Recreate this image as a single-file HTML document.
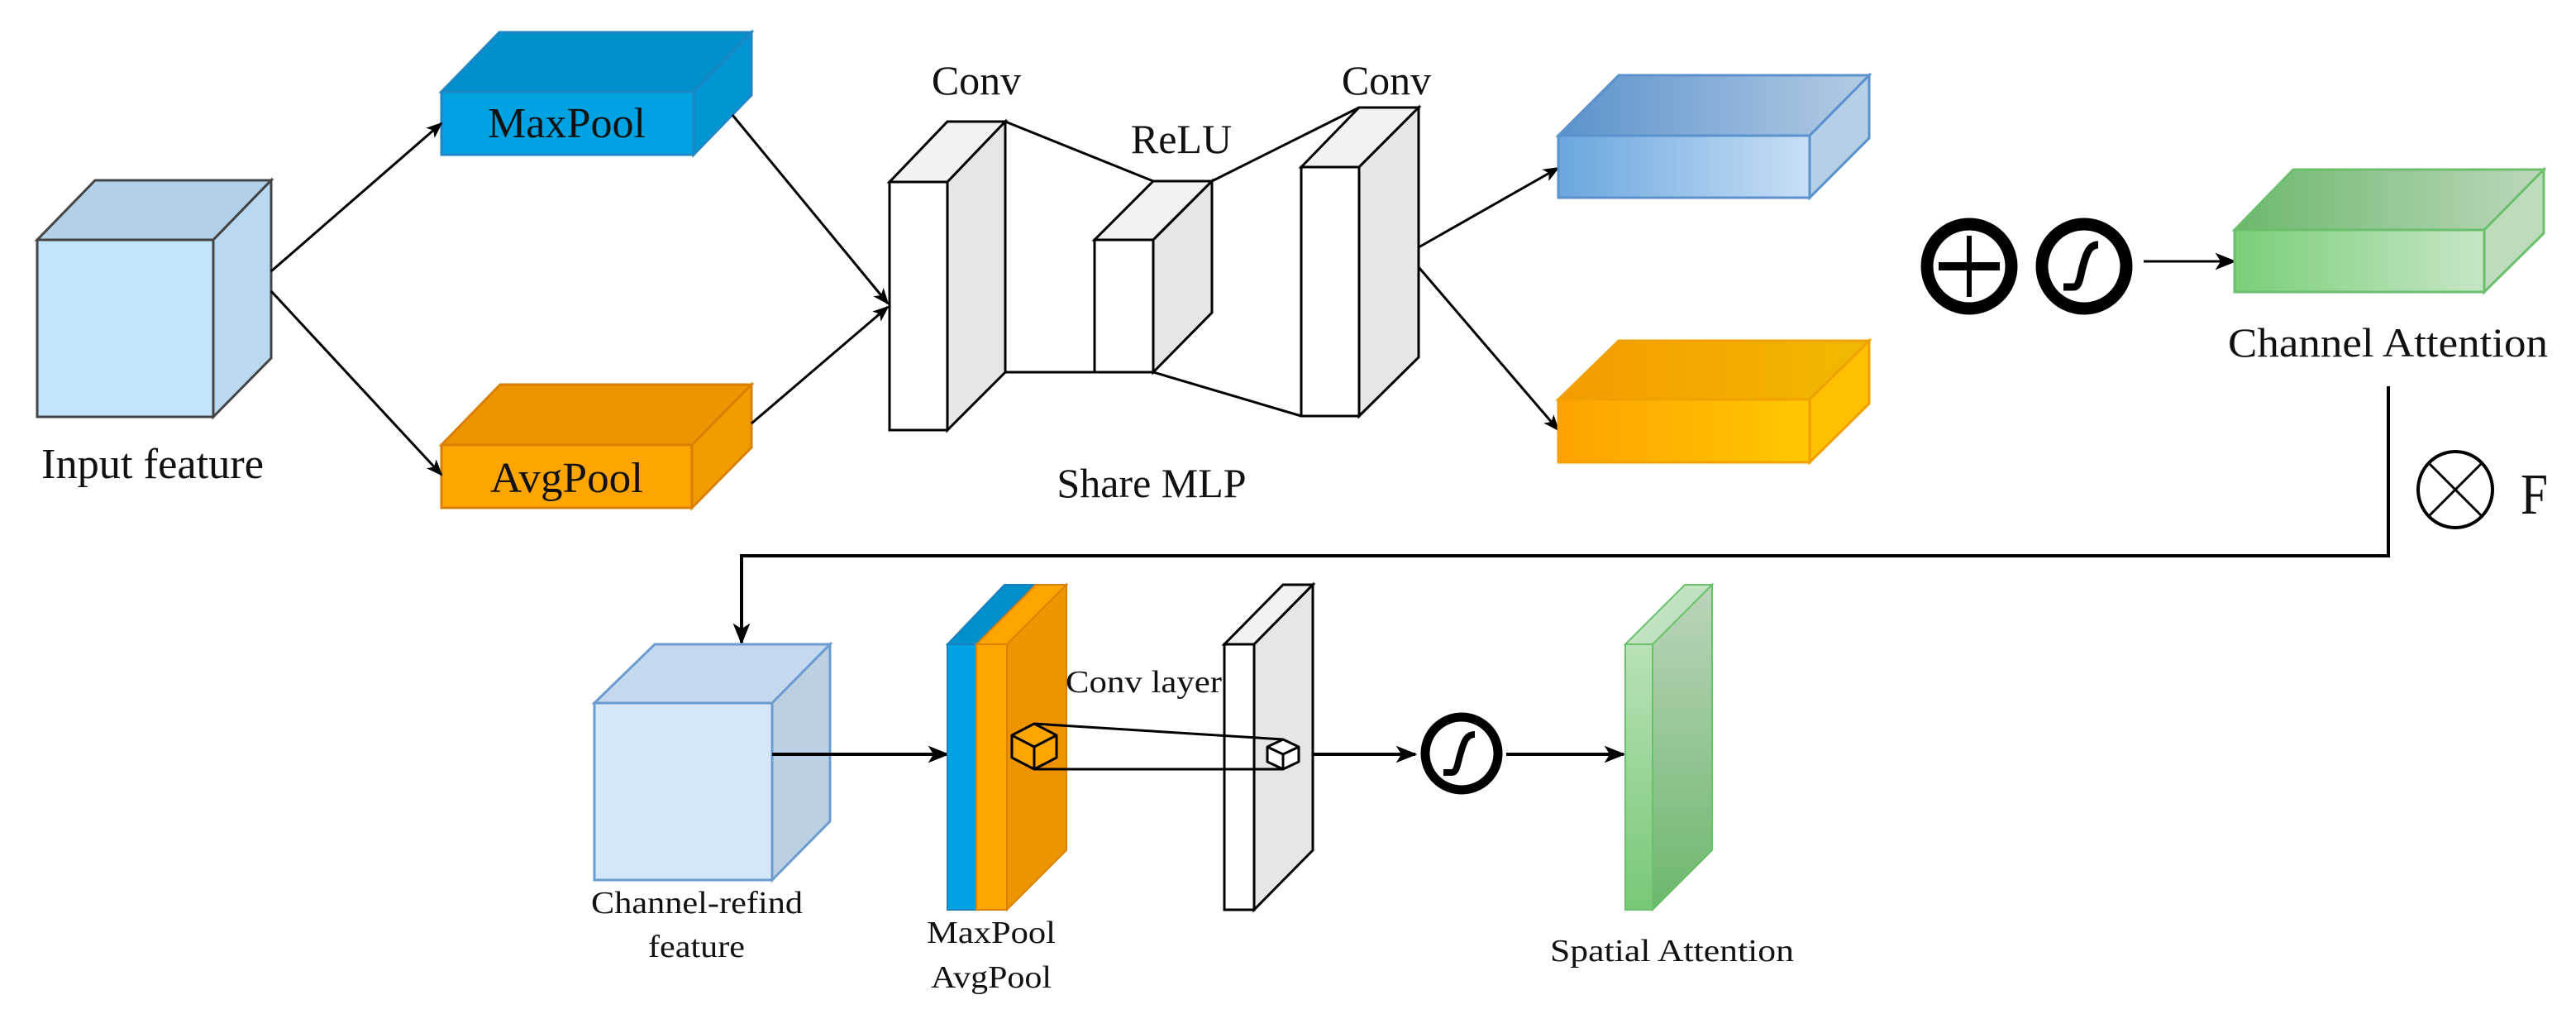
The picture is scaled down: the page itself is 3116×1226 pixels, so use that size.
<!DOCTYPE html>
<html><head><meta charset="utf-8"><style>
html,body{margin:0;padding:0;background:#fff;}
svg{display:block;}
text{font-family:"Liberation Serif",serif;fill:#111;}
</style></head><body>
<svg width="3116" height="1226" viewBox="0 0 3116 1226" xmlns="http://www.w3.org/2000/svg">
<defs>
<marker id="ah" viewBox="0 0 20 20" refX="18" refY="10" markerWidth="20" markerHeight="20" markerUnits="userSpaceOnUse" orient="auto">
<path d="M0,2 L20,10 L0,18 L5,10 Z" fill="#000"/>
</marker>
<marker id="ah2" viewBox="0 0 20 20" refX="18" refY="10" markerWidth="26" markerHeight="26" markerUnits="userSpaceOnUse" orient="auto">
<path d="M0,2 L20,10 L0,18 L5,10 Z" fill="#000"/>
</marker>
<linearGradient id="gb" x1="0" x2="1" y1="0" y2="0"><stop offset="0" stop-color="#6aa6de"/><stop offset="1" stop-color="#c8e0f6"/></linearGradient>
<linearGradient id="gbt" x1="0" x2="1" y1="0" y2="0"><stop offset="0" stop-color="#5b92cc"/><stop offset="1" stop-color="#b4cce4"/></linearGradient>
<linearGradient id="go" x1="0" x2="1" y1="0" y2="0"><stop offset="0" stop-color="#ffa200"/><stop offset="1" stop-color="#ffc800"/></linearGradient>
<linearGradient id="got" x1="0" x2="1" y1="0" y2="0"><stop offset="0" stop-color="#f59a00"/><stop offset="1" stop-color="#f0ba00"/></linearGradient>
<linearGradient id="gg" x1="0" x2="1" y1="0" y2="0"><stop offset="0" stop-color="#7acf78"/><stop offset="1" stop-color="#c6e6c6"/></linearGradient>
<linearGradient id="ggt" x1="0" x2="1" y1="0" y2="0"><stop offset="0" stop-color="#6cb86c"/><stop offset="1" stop-color="#bcd8bc"/></linearGradient>
<linearGradient id="gs" x1="0" x2="0" y1="0" y2="1"><stop offset="0" stop-color="#b8e2b6"/><stop offset="1" stop-color="#78c876"/></linearGradient>
<linearGradient id="gss" x1="0" x2="0" y1="0" y2="1"><stop offset="0" stop-color="#bcd4bc"/><stop offset="1" stop-color="#6cb86c"/></linearGradient>
</defs>

<g stroke="#444" stroke-width="3">
<polygon points="45,290 258,290 328,218 115,218" fill="#b1d0ea"/>
<polygon points="258,290 328,218 328,433 258,504" fill="#b9d9f2"/>
<rect x="45" y="290" width="213" height="214" fill="#c3e5fc"/>
</g>
<text x="50" y="578" font-size="52" textLength="269" lengthAdjust="spacingAndGlyphs">Input feature</text>

<g stroke="#1f86c4" stroke-width="3">
<polygon points="534,111 839,111 909,39 604,39" fill="#0090cc"/>
<polygon points="839,111 909,39 909,115 839,187" fill="#0096d2"/>
<rect x="534" y="111" width="305" height="76" fill="#00a3e2"/>
</g>
<text x="590" y="166" font-size="52" textLength="191" lengthAdjust="spacingAndGlyphs">MaxPool</text>

<g stroke="#d98000" stroke-width="3">
<polygon points="534,538 837,538 909,465 605,465" fill="#ee9400"/>
<polygon points="837,538 909,465 909,541 837,614" fill="#f29c00"/>
<rect x="534" y="538" width="303" height="76" fill="#ffa500"/>
</g>
<text x="593" y="595" font-size="52" textLength="185" lengthAdjust="spacingAndGlyphs">AvgPool</text>

<g stroke="#000" stroke-width="3" fill="none">
<line x1="328" y1="328" x2="534" y2="149" marker-end="url(#ah)"/>
<line x1="328" y1="352" x2="534" y2="574" marker-end="url(#ah)"/>
<line x1="886" y1="139" x2="1074" y2="367" marker-end="url(#ah)"/>
<line x1="909" y1="512" x2="1074" y2="371" marker-end="url(#ah)"/>
</g>

<g stroke="#000" stroke-width="3">
<polygon points="1076,220 1146,220 1216,147 1146,147" fill="#f2f2f2"/>
<polygon points="1146,220 1216,147 1216,450 1146,520" fill="#e6e6e6"/>
<rect x="1076" y="220" width="70" height="300" fill="#fff"/>
<polygon points="1324,290 1395,290 1466,219 1395,219" fill="#f2f2f2"/>
<polygon points="1395,290 1466,219 1466,378 1395,450" fill="#e6e6e6"/>
<rect x="1324" y="290" width="71" height="160" fill="#fff"/>
<polygon points="1574,202 1644,202 1716,130 1644,130" fill="#f2f2f2"/>
<polygon points="1644,202 1716,130 1716,432 1644,503" fill="#e6e6e6"/>
<rect x="1574" y="202" width="70" height="301" fill="#fff"/>
<line x1="1216" y1="147" x2="1395" y2="219"/>
<line x1="1466" y1="219" x2="1644" y2="130"/>
<line x1="1216" y1="450" x2="1324" y2="450"/>
<line x1="1395" y1="450" x2="1574" y2="503"/>
</g>
<text x="1181" y="114" font-size="50" text-anchor="middle">Conv</text>
<text x="1429" y="185" font-size="50" text-anchor="middle">ReLU</text>
<text x="1677" y="114" font-size="50" text-anchor="middle">Conv</text>
<text x="1393" y="601" font-size="50" text-anchor="middle">Share MLP</text>

<g stroke="#000" stroke-width="3" fill="none">
<line x1="1716" y1="299" x2="1885" y2="203" marker-end="url(#ah)"/>
<line x1="1716" y1="323" x2="1885" y2="520" marker-end="url(#ah)"/>
</g>

<g stroke="#5b92cc" stroke-width="3">
<polygon points="1885,164 2189,164 2261,91 1958,91" fill="url(#gbt)"/>
<polygon points="2189,164 2261,91 2261,167 2189,239" fill="#b6cfe8"/>
<rect x="1885" y="164" width="304" height="75" fill="url(#gb)"/>
</g>
<g stroke="#f0a000" stroke-width="3">
<polygon points="1885,483 2189,483 2261,412 1958,412" fill="url(#got)"/>
<polygon points="2189,483 2261,412 2261,488 2189,559" fill="#ffc000"/>
<rect x="1885" y="483" width="304" height="76" fill="url(#go)"/>
</g>

<g stroke="#000" fill="none">
<circle cx="2382" cy="322" r="51" stroke-width="15"/>
<line x1="2345" y1="322" x2="2419" y2="322" stroke-width="10"/>
<line x1="2382" y1="285" x2="2382" y2="359" stroke-width="6"/>
<circle cx="2521" cy="322" r="51" stroke-width="15"/>
<path d="M2496,347 L2508,347 C2516,347 2516,333 2520,320 C2524,305 2528,296 2538,296" stroke-width="9"/>
<line x1="2593" y1="316" x2="2703" y2="316" stroke-width="3" marker-end="url(#ah2)"/>
</g>

<g stroke="#6cbf6c" stroke-width="3">
<polygon points="2703,278 3005,278 3077,205 2774,205" fill="url(#ggt)"/>
<polygon points="3005,278 3077,205 3077,282 3005,353" fill="#bcdcbc"/>
<rect x="2703" y="278" width="302" height="75" fill="url(#gg)"/>
</g>
<text x="2695" y="431" font-size="50" textLength="387" lengthAdjust="spacingAndGlyphs">Channel Attention</text>

<g stroke="#000" fill="none">
<polyline points="2889,467 2889,672 897,672 897,777" stroke-width="4" marker-end="url(#ah2)"/>
<ellipse cx="2970" cy="592" rx="45" ry="46" stroke-width="4"/>
<line x1="2938" y1="560" x2="3002" y2="624" stroke-width="3"/>
<line x1="3002" y1="560" x2="2938" y2="624" stroke-width="3"/>
</g>
<text x="3049" y="621" font-size="70" textLength="33" lengthAdjust="spacingAndGlyphs">F</text>

<g stroke="#6c9ccf" stroke-width="3">
<polygon points="719,850 934,850 1004,779 792,779" fill="#c4d8ef"/>
<polygon points="934,850 1004,779 1004,993 934,1064" fill="#bccfe3"/>
<rect x="719" y="850" width="215" height="214" fill="#d4e8fa"/>
</g>
<text x="715" y="1104" font-size="38" textLength="256" lengthAdjust="spacingAndGlyphs">Channel-refind</text>
<text x="784" y="1157" font-size="38" textLength="117" lengthAdjust="spacingAndGlyphs">feature</text>

<line x1="934" y1="912" x2="1146" y2="912" stroke="#000" stroke-width="4" marker-end="url(#ah2)"/>

<g stroke-width="2">
<polygon points="1146,779 1181,779 1250,707 1215,707" fill="#0090cc" stroke="#1a7fbf"/>
<rect x="1146" y="779" width="35" height="321" fill="#00a3e2" stroke="#1a7fbf"/>
<polygon points="1181,779 1218,779 1290,707 1253,707" fill="#ffa500" stroke="#d98000"/>
<polygon points="1218,779 1290,707 1290,1028 1218,1100" fill="#ee9400" stroke="#d98000"/>
<rect x="1181" y="779" width="37" height="321" fill="#ffa500" stroke="#d98000"/>
</g>
<text x="1121" y="1140" font-size="38" textLength="156" lengthAdjust="spacingAndGlyphs">MaxPool</text>
<text x="1126" y="1194" font-size="38" textLength="146" lengthAdjust="spacingAndGlyphs">AvgPool</text>
<text x="1289" y="837" font-size="38" textLength="189" lengthAdjust="spacingAndGlyphs">Conv layer</text>

<g stroke="#000" stroke-width="3">
<polygon points="1481,779 1517,779 1588,707 1552,707" fill="#f2f2f2"/>
<polygon points="1517,779 1588,707 1588,1028 1517,1100" fill="#e6e6e6"/>
<rect x="1481" y="779" width="36" height="321" fill="#fff"/>
</g>

<g stroke="#000" stroke-width="3" stroke-linejoin="round">
<polygon points="1251,875 1278,889 1278,916 1251,930 1224,916 1224,889" fill="#ffa500"/>
<polyline points="1224,889 1251,903 1278,889" fill="none"/>
<line x1="1251" y1="903" x2="1251" y2="930"/>
<polygon points="1552,894 1571,903 1571,921 1552,930 1533,921 1533,903" fill="#fff"/>
<polyline points="1533,903 1552,912 1571,903" fill="none"/>
<line x1="1552" y1="912" x2="1552" y2="930"/>
<line x1="1251" y1="875" x2="1552" y2="894"/>
<line x1="1251" y1="930" x2="1552" y2="930"/>
</g>

<line x1="1588" y1="912" x2="1712" y2="912" stroke="#000" stroke-width="4" marker-end="url(#ah2)"/>
<g stroke="#000" fill="none">
<circle cx="1768" cy="911" r="44" stroke-width="11"/>
<path d="M1746,934 L1756,934 C1763,934 1763,922 1767,910 C1771,896 1774,888 1784,888" stroke-width="8"/>
</g>
<line x1="1822" y1="912" x2="1964" y2="912" stroke="#000" stroke-width="4" marker-end="url(#ah2)"/>

<g stroke="#6cbf6c" stroke-width="2">
<polygon points="1966,779 1999,779 2071,707 2038,707" fill="#c0e2c0"/>
<polygon points="1999,779 2071,707 2071,1028 1999,1100" fill="url(#gss)"/>
<rect x="1966" y="779" width="33" height="321" fill="url(#gs)"/>
</g>
<text x="1875" y="1162" font-size="38" textLength="295" lengthAdjust="spacingAndGlyphs">Spatial Attention</text>
</svg>
</body></html>
